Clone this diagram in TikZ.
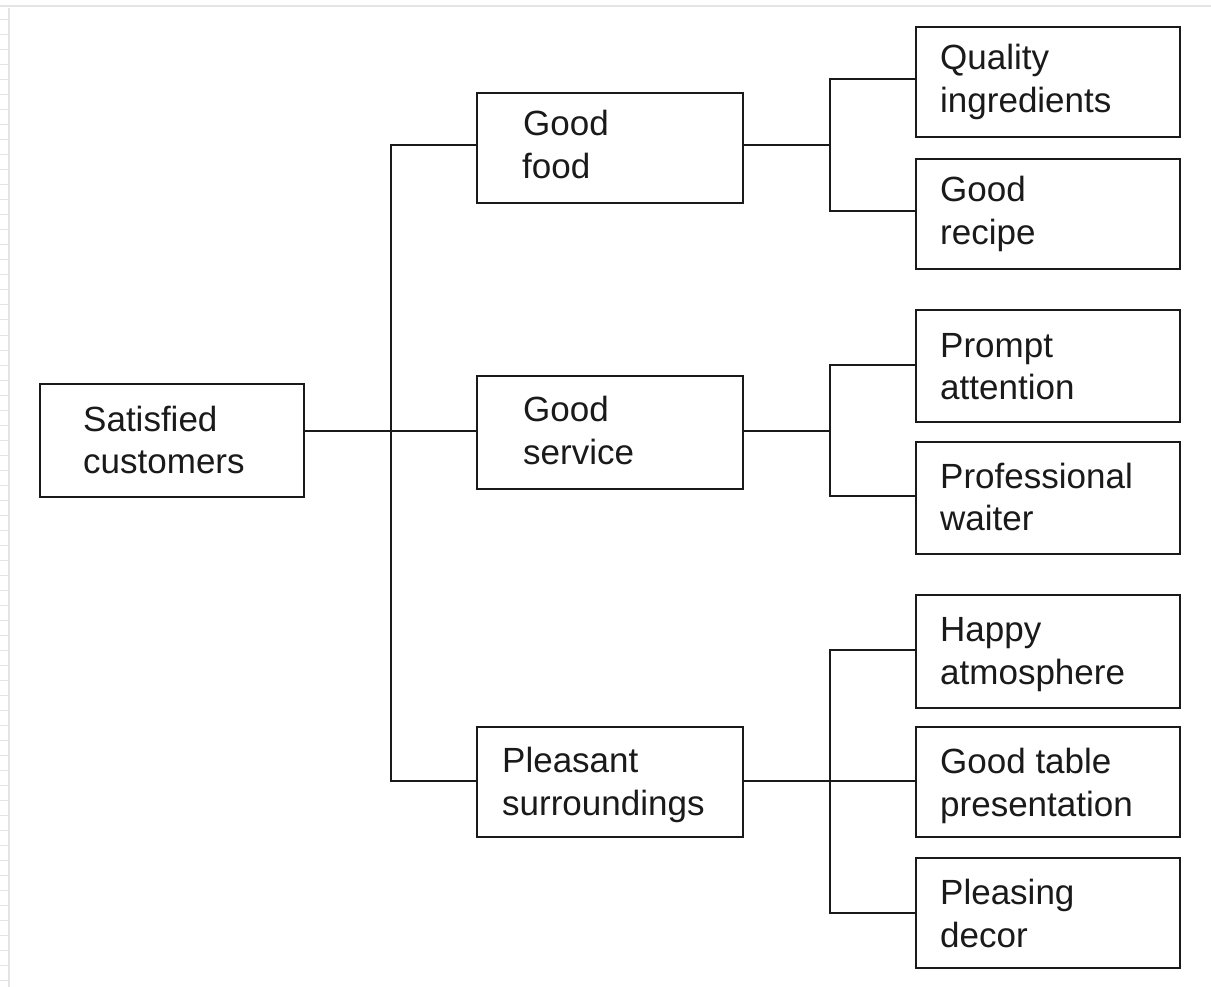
\documentclass[tikz,border=0pt]{standalone}
\usepackage{fontspec}
\setmainfont{Liberation Sans}
\definecolor{ink}{HTML}{1A1A1A}
\definecolor{frame}{HTML}{E4E4E4}
\begin{document}
\begin{tikzpicture}[x=1pt,y=-1pt,
  box/.style={draw=ink,line width=2.8pt,inner sep=0pt,minimum width=264pt},
  lbl/.style={font=\fontsize{35}{42}\selectfont,text=ink,anchor=base west,inner sep=0pt},
  link/.style={draw=ink,line width=2.8pt}]
\useasboundingbox (0,0) rectangle (1211,987);
\fill[white] (0,0) rectangle (1211,987);
\draw[frame,line width=2pt] (0,6) -- (1211,6);
\draw[frame,line width=1.5pt] (9,8) -- (9,987);
\foreach \yy in {20,35,...,980} \draw[frame,line width=1pt] (0,\yy) -- (8,\yy);
% boxes
\node[box,minimum height=113pt] (sc) at (172,440.5) {};
\node[box,minimum width=266pt,minimum height=110pt] (gf) at (610,148) {};
\node[box,minimum width=266pt,minimum height=113pt] (gs) at (610,432.5) {};
\node[box,minimum width=266pt,minimum height=110pt] (ps) at (610,782) {};
\node[box,minimum height=110pt] (qi) at (1048,82) {};
\node[box,minimum height=110pt] (gr) at (1048,214) {};
\node[box,minimum height=112pt] (pa) at (1048,366) {};
\node[box,minimum height=112pt] (pw) at (1048,498) {};
\node[box,minimum height=113pt] (ha) at (1048,651.5) {};
\node[box,minimum height=110pt] (gt) at (1048,782) {};
\node[box,minimum height=110pt] (pd) at (1048,913) {};
% labels
\node[lbl] (sc1) at (83,431) {Satisfied};
\node[lbl] (sc2) at (83,473) {customers};
\node[lbl] (gf1) at (523,136) {Good};
\node[lbl] (gf2) at (522,179) {food};
\node[lbl] (gs1) at (523,421) {Good};
\node[lbl] (gs2) at (523,464) {service};
\node[lbl] (ps1) at (502,772) {Pleasant};
\node[lbl] (ps2) at (502,815) {surroundings};
\node[lbl] (qi1) at (940,70) {Quality};
\node[lbl] (qi2) at (940,113) {ingredients};
\node[lbl] (gr1) at (940,202) {Good};
\node[lbl] (gr2) at (940,245) {recipe};
\node[lbl] (pa1) at (940,357) {Prompt};
\node[lbl] (pa2) at (940,399) {attention};
\node[lbl] (pw1) at (940,488) {Professional};
\node[lbl] (pw2) at (940,530) {waiter};
\node[lbl] (ha1) at (940,641) {Happy};
\node[lbl] (ha2) at (940,684) {atmosphere};
\node[lbl] (gt1) at (940,773) {Good table};
\node[lbl] (gt2) at (940,816) {presentation};
\node[lbl] (pd1) at (940,904) {Pleasing};
\node[lbl] (pd2) at (940,947) {decor};
% trunk coordinates
\coordinate (b1) at (391,0);
\coordinate (b2) at (830,0);
\coordinate (y1) at (0,431);
\coordinate (y2) at (0,145);
\coordinate (y3) at (0,781);
% first level
\draw[link] (sc.east |- y1) -- (gs.west |- y1);
\draw[link] (gf.west |- y2) -- (b1 |- y2) -- (b1 |- y3) -- (ps.west |- y3);
% second level: food
\coordinate (f1) at (0,79);
\coordinate (f2) at (0,211);
\draw[link] (gf.east |- y2) -- (b2 |- y2);
\draw[link] (qi.west |- f1) -- (b2 |- f1) -- (b2 |- f2) -- (gr.west |- f2);
% service
\coordinate (s1) at (0,365);
\coordinate (s2) at (0,496);
\draw[link] (gs.east |- y1) -- (b2 |- y1);
\draw[link] (pa.west |- s1) -- (b2 |- s1) -- (b2 |- s2) -- (pw.west |- s2);
% surroundings
\coordinate (p1) at (0,650);
\coordinate (p2) at (0,913);
\draw[link] (ps.east |- y3) -- (gt.west |- y3);
\draw[link] (ha.west |- p1) -- (b2 |- p1) -- (b2 |- p2) -- (pd.west |- p2);
\end{tikzpicture}
\end{document}
